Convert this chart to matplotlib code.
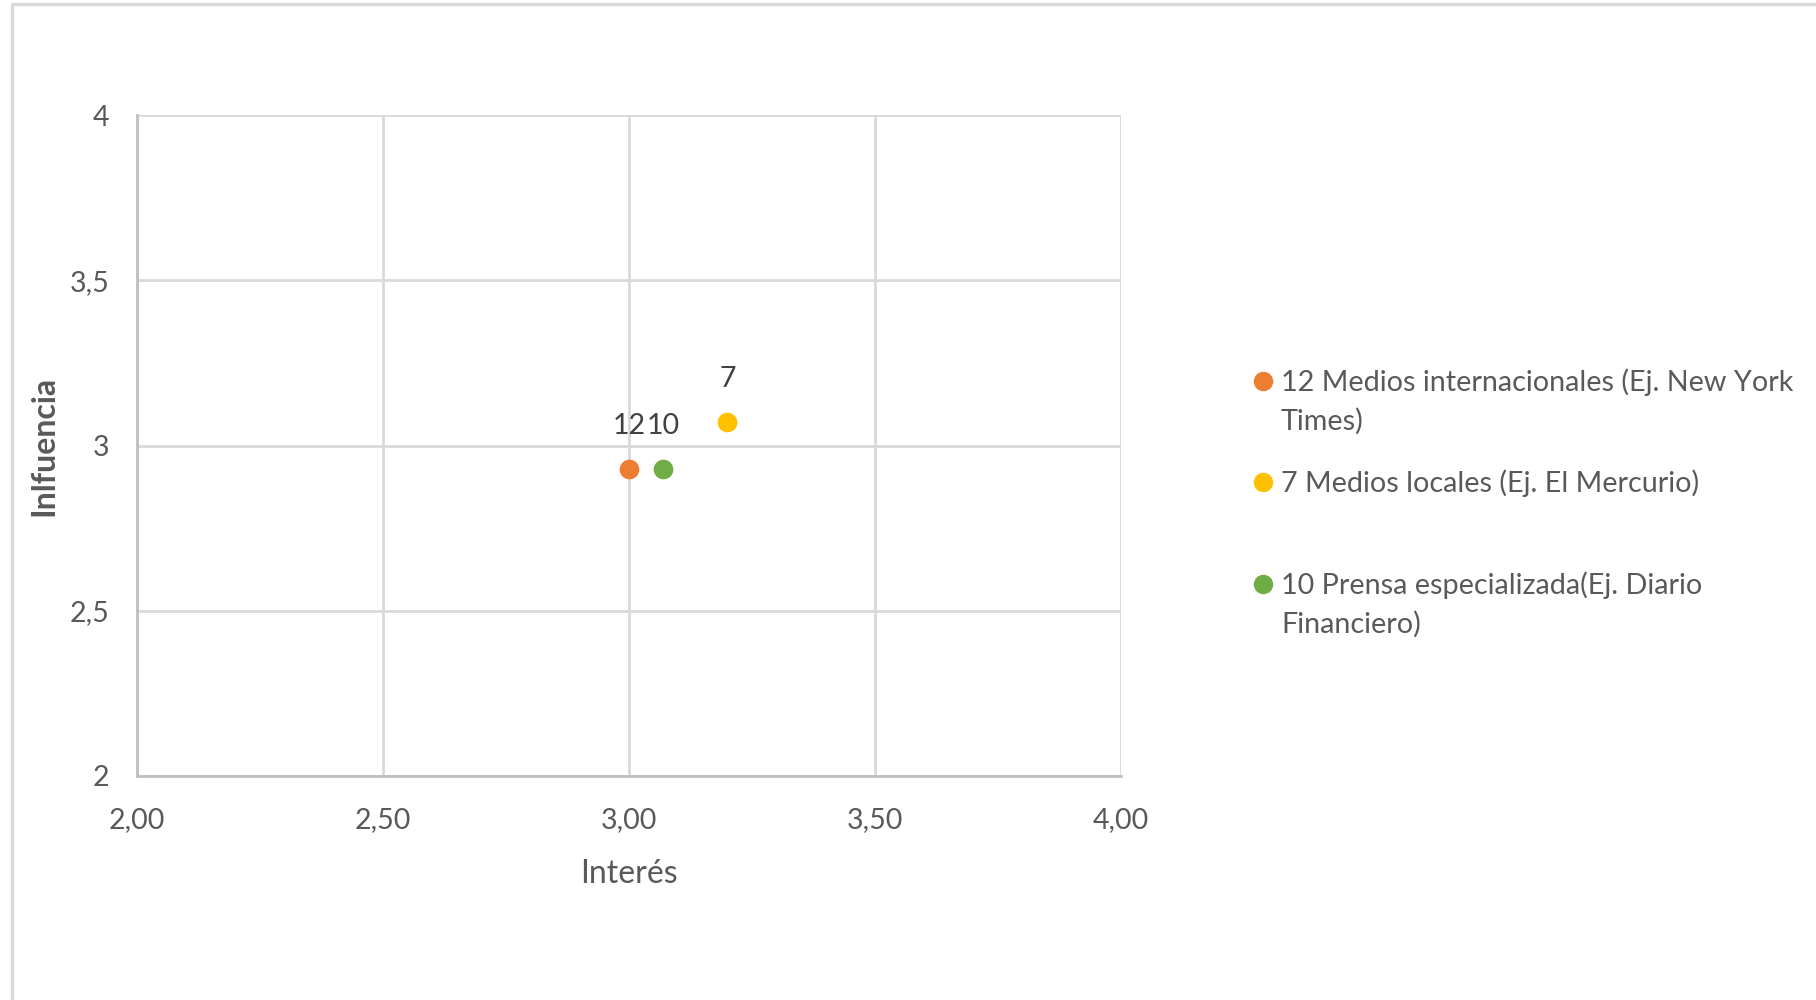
import matplotlib.pyplot as plt
from matplotlib.lines import Line2D
from matplotlib.ticker import FuncFormatter

plt.rcParams["font.family"] = ["Lato", "DejaVu Sans"]

# data
names = ["12 Medios internacionales (Ej. New York\nTimes)",
         "7 Medios locales (Ej. El Mercurio)",
         "10 Prensa especializada(Ej. Diario\nFinanciero)"]
point_labels = ["12", "7", "10"]
interes = [3.00, 3.20, 3.07]
influencia = [2.93, 3.07, 2.93]
colors = ["#ED7D31", "#FFC000", "#70AD47"]

x_ticks = [2.0, 2.5, 3.0, 3.5, 4.0]
y_ticks = [2.0, 2.5, 3.0, 3.5, 4.0]

text_color = "#595959"
fs = 20.5

fig = plt.figure(figsize=(18.16, 10), dpi=100)
ax = fig.add_axes([137 / 1816, 1 - 776 / 1000, (1121 - 137) / 1816, (776 - 115) / 1000])

for x, y, c, lab in zip(interes, influencia, colors, point_labels):
    ax.scatter(x, y, s=200, color=c, zorder=3, linewidths=0)
    ax.annotate(lab, (x, y), xytext=(0, 31), textcoords="offset points",
                ha="center", va="center", fontsize=fs, color="#404040")

ax.set_xlim(2, 4)
ax.set_ylim(2, 4)
ax.set_xticks(x_ticks)
ax.set_yticks(y_ticks)
ax.xaxis.set_major_formatter(FuncFormatter(lambda v, p: f"{v:.2f}".replace(".", ",")))
ax.yaxis.set_major_formatter(FuncFormatter(lambda v, p: f"{v:g}".replace(".", ",")))
ax.tick_params(length=0, labelsize=fs, labelcolor=text_color)
ax.tick_params(axis="y", pad=20)
ax.tick_params(axis="x", pad=22)
ax.grid(True, color="#d9d9d9", linewidth=2)
ax.set_axisbelow(True)
for side in ["top", "right"]:
    ax.spines[side].set_visible(False)
for side in ["left", "bottom"]:
    ax.spines[side].set_color("#bfbfbf")
    ax.spines[side].set_linewidth(2)

ax.set_xlabel("Interés", fontsize=23, color=text_color, labelpad=19)
ax.set_ylabel("Inlfuencia", fontsize=23, fontweight="bold", color=text_color, labelpad=8)

# legend drawn by hand so the marker sits on the first line of each entry
legend_y = [381, 482, 584]
for name, c, ly in zip(names, colors, legend_y):
    fy = 1 - ly / 1000
    fig.add_artist(Line2D([1263 / 1816], [fy], marker="o", markersize=13,
                          color=c, linestyle="none", transform=fig.transFigure))
    fig.text(1281 / 1816, fy + 0.013, name, ha="left", va="top", fontsize=20.7,
             color=text_color, linespacing=1.56)

# outer chart border
fig.add_artist(Line2D([12 / 1816, 12 / 1816, 1.0], [0.0, 1 - 4 / 1000, 1 - 4 / 1000],
                      color="#d9d9d9", linewidth=2.5, transform=fig.transFigure))

fig.savefig("out.png", dpi=100)
